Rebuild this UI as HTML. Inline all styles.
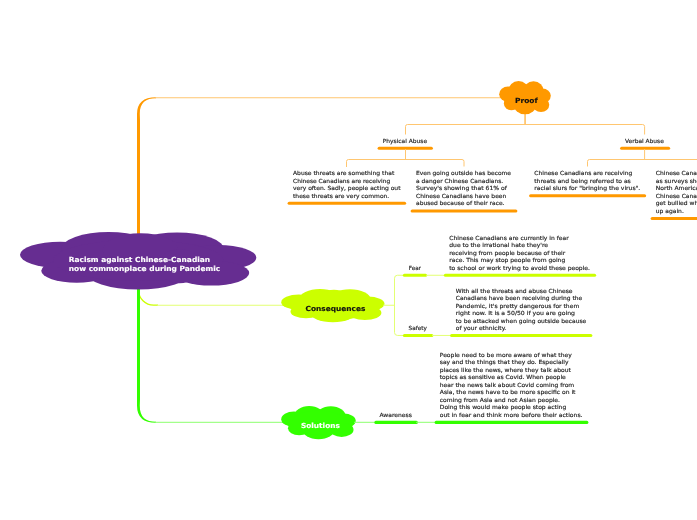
<!DOCTYPE html>
<html lang="en">
<head>
<meta charset="utf-8">
<title>Racism against Chinese-Canadian now commonplace during Pandemic</title>
<style>
html,body{margin:0;padding:0;background:#ffffff;}
body{width:697px;height:520px;overflow:hidden;}
svg{display:block;font-family:"DejaVu Sans","Liberation Sans",sans-serif;will-change:transform;}
text{white-space:pre;}
</style>
</head>
<body>
<svg width="697" height="520" viewBox="0 0 697 520">
<rect width="697" height="520" fill="#ffffff"/>
<path d="M137 240 L137 114 Q137 97.2 156 97.2 L156 98.3 C146 98.3 139.6 102.5 139.8 114 L140 120 L140 240 Z" fill="#FF9900"/>
<path d="M155 97.75 H505" fill="none" stroke="#FFC670" stroke-width="1"/>
<path d="M138.6 286 V290.2 A15 15 0 0 0 153.6 305.2 H158" fill="none" stroke="#CCFF00" stroke-width="1.3"/>
<path d="M137 280 L137 405.5 Q137 422.85 156 422.85 L156 421.75 C146 421.75 139.6 417.5 139.8 405.5 L140 399.5 L140 280 Z" fill="#33FF00"/>
<path d="M155 422.3 H290" fill="none" stroke="#8CFF6E" stroke-width="1"/>
<path d="M157 305.25 H290" fill="none" stroke="#E3FF73" stroke-width="1"/>
<path d="M525.05 110 V124.5" fill="none" stroke="#FF9900" stroke-width="1"/>
<path d="M405.5 134.5 V126.5 Q405.5 124.5 407.5 124.5 H642.6 Q644.6 124.5 644.6 126.5 V134.5" fill="none" stroke="#FFC670" stroke-width="1"/>
<g fill="#FF9900"><ellipse cx="507.97" cy="94.20" rx="8.77" ry="7.59"/><ellipse cx="518.55" cy="90.90" rx="10.32" ry="9.90"/><ellipse cx="533.51" cy="91.23" rx="10.32" ry="9.90"/><ellipse cx="542.54" cy="95.85" rx="8.26" ry="7.26"/><ellipse cx="541.00" cy="104.76" rx="8.26" ry="7.26"/><ellipse cx="525.00" cy="104.43" rx="11.35" ry="9.90"/><ellipse cx="511.58" cy="103.44" rx="7.74" ry="6.93"/><ellipse cx="525.00" cy="97.50" rx="18.58" ry="11.88"/></g>
<text font-size="7" font-weight="bold" fill="#111" stroke="#111" stroke-width="0.15"><tspan x="515.1" y="102.6" textLength="22.6" lengthAdjust="spacingAndGlyphs">Proof</tspan></text>
<text font-size="5.6" font-weight="normal" fill="#222222" stroke="#222222" stroke-width="0.15"><tspan x="382.75" y="143" textLength="44.3" lengthAdjust="spacingAndGlyphs">Physical Abuse</tspan></text>
<line x1="379.15" y1="148.25" x2="431.35" y2="148.25" stroke="#FF9900" stroke-width="3.1" stroke-linecap="round"/>
<path d="M405.5 149 V159.5" fill="none" stroke="#FFC670" stroke-width="1"/>
<path d="M346.5 167 V161.5 Q346.5 159.5 348.5 159.5 H462 Q464 159.5 464 161.5 V166.5" fill="none" stroke="#FFC670" stroke-width="1"/>
<text font-size="5.6" font-weight="normal" fill="#222222" stroke="#222222" stroke-width="0.15"><tspan x="293" y="175" textLength="101.25" lengthAdjust="spacingAndGlyphs">Abuse threats are something that</tspan><tspan x="293" y="182.75" textLength="97.25" lengthAdjust="spacingAndGlyphs">Chinese Canadians are receiving</tspan><tspan x="293" y="190" textLength="107.5" lengthAdjust="spacingAndGlyphs">very often. Sadly, people acting out</tspan><tspan x="293" y="197.75" textLength="96.25" lengthAdjust="spacingAndGlyphs">these threats are very common.</tspan></text>
<line x1="289.15" y1="203.25" x2="404.60" y2="203.25" stroke="#FF9900" stroke-width="3.1" stroke-linecap="round"/>
<text font-size="5.6" font-weight="normal" fill="#222222" stroke="#222222" stroke-width="0.15"><tspan x="416" y="175" textLength="95" lengthAdjust="spacingAndGlyphs">Even going outside has become</tspan><tspan x="416" y="182.75" textLength="87.25" lengthAdjust="spacingAndGlyphs">a danger Chinese Canadians.</tspan><tspan x="416" y="190" textLength="91" lengthAdjust="spacingAndGlyphs">Survey's showing that 61% of</tspan><tspan x="416" y="197.75" textLength="90.25" lengthAdjust="spacingAndGlyphs">Chinese Canadians have been</tspan><tspan x="416" y="205" textLength="88.5" lengthAdjust="spacingAndGlyphs">abused because of their race.</tspan></text>
<line x1="412.15" y1="211" x2="515.85" y2="211" stroke="#FF9900" stroke-width="3.1" stroke-linecap="round"/>
<text font-size="5.6" font-weight="normal" fill="#222222" stroke="#222222" stroke-width="0.15"><tspan x="625" y="143" textLength="38.8" lengthAdjust="spacingAndGlyphs">Verbal Abuse</tspan></text>
<line x1="621.65" y1="148.25" x2="668.60" y2="148.25" stroke="#FF9900" stroke-width="3.1" stroke-linecap="round"/>
<path d="M644.6 149 V159.5" fill="none" stroke="#FFC670" stroke-width="1"/>
<path d="M587.5 166.5 V161.5 Q587.5 159.5 589.5 159.5 H700" fill="none" stroke="#FFC670" stroke-width="1"/>
<text font-size="5.6" font-weight="normal" fill="#222222" stroke="#222222" stroke-width="0.15"><tspan x="534.25" y="175" textLength="98" lengthAdjust="spacingAndGlyphs">Chinese Canadians are receiving</tspan><tspan x="534.25" y="182.75" textLength="96.5" lengthAdjust="spacingAndGlyphs">threats and being referred to as</tspan><tspan x="534.25" y="190" textLength="106" lengthAdjust="spacingAndGlyphs">racial slurs for &quot;bringing the virus&quot;.</tspan></text>
<line x1="530.65" y1="195.75" x2="644.60" y2="195.75" stroke="#FF9900" stroke-width="3.1" stroke-linecap="round"/>
<text font-size="5.6" font-weight="normal" fill="#222222" stroke="#222222" stroke-width="0.15"><tspan x="655.75" y="175" textLength="109.6" lengthAdjust="spacingAndGlyphs">Chinese Canadians are being bullied</tspan><tspan x="655.75" y="182.75" textLength="84.7" lengthAdjust="spacingAndGlyphs">as surveys show that across</tspan><tspan x="655.75" y="190" textLength="97.3" lengthAdjust="spacingAndGlyphs">North America more than half of</tspan><tspan x="655.75" y="197.75" textLength="115.4" lengthAdjust="spacingAndGlyphs">Chinese Canadians are afraid they will</tspan><tspan x="655.75" y="205" textLength="91.1" lengthAdjust="spacingAndGlyphs">get bullied when schools open</tspan><tspan x="655.75" y="212.75" textLength="28.1" lengthAdjust="spacingAndGlyphs">up again.</tspan></text>
<line x1="652.15" y1="218.5" x2="758.85" y2="218.5" stroke="#FF9900" stroke-width="3.1" stroke-linecap="round"/>
<g fill="#CCFF00"><ellipse cx="298.80" cy="302.20" rx="17.55" ry="7.59"/><ellipse cx="319.97" cy="298.90" rx="20.65" ry="9.90"/><ellipse cx="349.91" cy="299.23" rx="20.65" ry="9.90"/><ellipse cx="367.98" cy="303.85" rx="16.52" ry="7.26"/><ellipse cx="364.88" cy="312.76" rx="16.52" ry="7.26"/><ellipse cx="332.88" cy="312.43" rx="22.71" ry="9.90"/><ellipse cx="306.03" cy="311.44" rx="15.49" ry="6.93"/><ellipse cx="332.88" cy="305.50" rx="37.17" ry="11.88"/><ellipse cx="333.91" cy="299.56" rx="16.52" ry="9.90"/><ellipse cx="350.94" cy="308.80" rx="9.29" ry="9.90"/><ellipse cx="317.39" cy="308.80" rx="9.29" ry="9.57"/></g>
<text font-size="7" font-weight="bold" fill="#111" stroke="#111" stroke-width="0.15"><tspan x="305.5" y="311.1" textLength="59.8" lengthAdjust="spacingAndGlyphs">Consequences</tspan></text>
<path d="M383 305.25 H394.5" fill="none" stroke="#E3FF73" stroke-width="1"/>
<path d="M403.5 275.25 H397.5 Q394.5 275.25 394.5 278.25 V332.45 Q394.5 335.45 397.5 335.45 H403.5" fill="none" stroke="#E3FF73" stroke-width="1"/>
<text font-size="5.6" font-weight="normal" fill="#222222" stroke="#222222" stroke-width="0.15"><tspan x="408.75" y="270" textLength="12.2" lengthAdjust="spacingAndGlyphs">Fear</tspan></text>
<line x1="404.40" y1="275.25" x2="425.60" y2="275.25" stroke="#CCFF00" stroke-width="3.1" stroke-linecap="round"/>
<path d="M426 275.25 H445" fill="none" stroke="#E3FF73" stroke-width="1"/>
<text font-size="5.6" font-weight="normal" fill="#222222" stroke="#222222" stroke-width="0.15"><tspan x="449.25" y="239.5" textLength="119.5" lengthAdjust="spacingAndGlyphs">Chinese Canadians are currently in fear</tspan><tspan x="449.25" y="246.75" textLength="98.75" lengthAdjust="spacingAndGlyphs">due to the irrational hate they're</tspan><tspan x="449.25" y="254.5" textLength="116" lengthAdjust="spacingAndGlyphs">receiving from people because of their</tspan><tspan x="449.25" y="261.75" textLength="116" lengthAdjust="spacingAndGlyphs">race. This may stop people from going</tspan><tspan x="449.25" y="269.5" textLength="140.75" lengthAdjust="spacingAndGlyphs">to school or work trying to avoid these people.</tspan></text>
<line x1="445.40" y1="275.25" x2="594.60" y2="275.25" stroke="#CCFF00" stroke-width="3.1" stroke-linecap="round"/>
<text font-size="5.6" font-weight="normal" fill="#222222" stroke="#222222" stroke-width="0.15"><tspan x="408.5" y="329.75" textLength="18.4" lengthAdjust="spacingAndGlyphs">Safety</tspan></text>
<line x1="404.40" y1="335.45" x2="431.85" y2="335.45" stroke="#CCFF00" stroke-width="3.1" stroke-linecap="round"/>
<path d="M432 335.45 H451" fill="none" stroke="#E3FF73" stroke-width="1"/>
<text font-size="5.6" font-weight="normal" fill="#222222" stroke="#222222" stroke-width="0.15"><tspan x="455.75" y="292.75" textLength="116.75" lengthAdjust="spacingAndGlyphs">With all the threats and abuse Chinese</tspan><tspan x="455.75" y="300" textLength="126.5" lengthAdjust="spacingAndGlyphs">Canadians have been receiving during the</tspan><tspan x="455.75" y="307.75" textLength="123.5" lengthAdjust="spacingAndGlyphs">Pandemic, it's pretty dangerous for them</tspan><tspan x="455.75" y="315" textLength="119.25" lengthAdjust="spacingAndGlyphs">right now. It is a 50/50 if you are going</tspan><tspan x="455.75" y="322.75" textLength="130.5" lengthAdjust="spacingAndGlyphs">to be attacked when going outside because</tspan><tspan x="455.75" y="330" textLength="50.5" lengthAdjust="spacingAndGlyphs">of your ethnicity.</tspan></text>
<line x1="451.65" y1="335.45" x2="590.85" y2="335.45" stroke="#CCFF00" stroke-width="3.1" stroke-linecap="round"/>
<g fill="#33FF00"><ellipse cx="293.92" cy="419.16" rx="12.67" ry="7.57"/><ellipse cx="309.19" cy="415.87" rx="14.90" ry="9.87"/><ellipse cx="330.79" cy="416.20" rx="14.90" ry="9.87"/><ellipse cx="343.83" cy="420.81" rx="11.92" ry="7.24"/><ellipse cx="341.60" cy="429.69" rx="11.92" ry="7.24"/><ellipse cx="318.50" cy="429.36" rx="16.39" ry="9.87"/><ellipse cx="299.13" cy="428.37" rx="11.17" ry="6.91"/><ellipse cx="318.50" cy="422.45" rx="26.82" ry="11.84"/></g>
<text font-size="7" font-weight="bold" fill="#ffffff" stroke="#ffffff" stroke-width="0.15"><tspan x="301" y="428" textLength="38.8" lengthAdjust="spacingAndGlyphs">Solutions</tspan></text>
<path d="M354 422.3 H376" fill="none" stroke="#8CFF6E" stroke-width="1"/>
<text font-size="5.6" font-weight="normal" fill="#222222" stroke="#222222" stroke-width="0.15"><tspan x="379.5" y="416.75" textLength="32.3" lengthAdjust="spacingAndGlyphs">Awareness</tspan></text>
<line x1="375.90" y1="422.4" x2="416.35" y2="422.4" stroke="#33FF00" stroke-width="3.1" stroke-linecap="round"/>
<path d="M416 422.3 H436" fill="none" stroke="#8CFF6E" stroke-width="1"/>
<text font-size="5.6" font-weight="normal" fill="#222222" stroke="#222222" stroke-width="0.15"><tspan x="439.75" y="356.75" textLength="132" lengthAdjust="spacingAndGlyphs">People need to be more aware of what they</tspan><tspan x="439.75" y="364" textLength="128.75" lengthAdjust="spacingAndGlyphs">say and the things that they do. Especially</tspan><tspan x="439.75" y="371.75" textLength="131.25" lengthAdjust="spacingAndGlyphs">places like the news, where they talk about</tspan><tspan x="439.75" y="379" textLength="126" lengthAdjust="spacingAndGlyphs">topics as sensitive as Covid. When people</tspan><tspan x="439.75" y="386.75" textLength="134.5" lengthAdjust="spacingAndGlyphs">hear the news talk about Covid coming from</tspan><tspan x="439.75" y="394" textLength="135.75" lengthAdjust="spacingAndGlyphs">Asia, the news have to be more specific on it</tspan><tspan x="439.75" y="401.75" textLength="120.25" lengthAdjust="spacingAndGlyphs">coming from Asia and not Asian people.</tspan><tspan x="439.75" y="409" textLength="126.5" lengthAdjust="spacingAndGlyphs">Doing this would make people stop acting</tspan><tspan x="439.75" y="416.75" textLength="142.75" lengthAdjust="spacingAndGlyphs">out in fear and think more before their actions.</tspan></text>
<line x1="436.15" y1="422.4" x2="586.85" y2="422.4" stroke="#33FF00" stroke-width="3.1" stroke-linecap="round"/>
<g fill="#662D91"><ellipse cx="60.17" cy="254.80" rx="40.17" ry="13.11"/><ellipse cx="108.61" cy="249.10" rx="47.26" ry="17.10"/><ellipse cx="177.14" cy="249.67" rx="47.26" ry="17.10"/><ellipse cx="218.49" cy="257.65" rx="37.81" ry="12.54"/><ellipse cx="211.40" cy="273.04" rx="37.81" ry="12.54"/><ellipse cx="138.15" cy="272.47" rx="51.99" ry="17.10"/><ellipse cx="76.71" cy="270.76" rx="35.45" ry="11.97"/><ellipse cx="138.15" cy="260.50" rx="85.07" ry="20.52"/><ellipse cx="140.51" cy="250.24" rx="37.81" ry="17.10"/><ellipse cx="179.50" cy="266.20" rx="21.27" ry="17.10"/></g>
<text font-size="7" font-weight="bold" fill="#ffffff" stroke="#ffffff" stroke-width="0.15"><tspan x="68.75" y="261.8" textLength="141.3" lengthAdjust="spacingAndGlyphs">Racism against Chinese-Canadian</tspan><tspan x="68.75" y="270.8" textLength="151.5" lengthAdjust="spacingAndGlyphs">now commonplace during Pandemic</tspan></text>
</svg>
</body>
</html>
